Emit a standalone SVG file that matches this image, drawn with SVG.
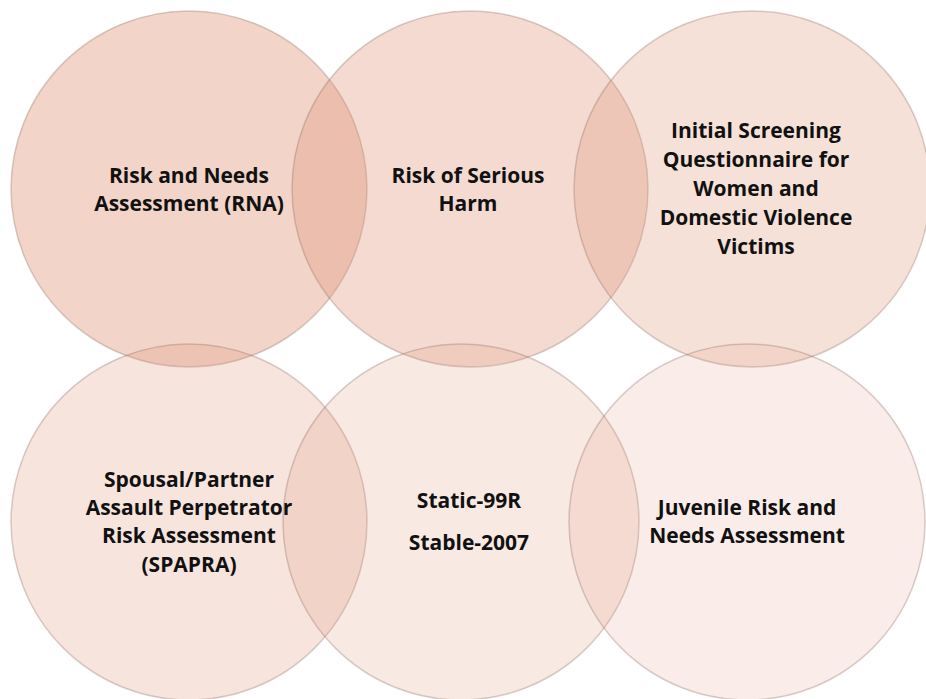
<svg xmlns="http://www.w3.org/2000/svg" width="926" height="699" viewBox="0 0 926 699">
<style>
.c{fill:#e0967a;stroke:#8a6a60;stroke-opacity:0.32;stroke-width:1.5}
.t{font-family:"Open Sans","Noto Sans","Liberation Sans",sans-serif;font-weight:700;font-size:21px;fill:#111;text-anchor:middle}
</style>
<rect width="926" height="699" fill="#fff"/>
<g id="node-rna"><circle class="c" cx="189" cy="189" r="178" fill-opacity="0.41"/></g>
<g id="node-rosh"><circle class="c" cx="470" cy="189" r="178" fill-opacity="0.35"/></g>
<g id="node-isq"><circle class="c" cx="752" cy="189" r="178" fill-opacity="0.29"/></g>
<g id="node-spapra"><circle class="c" cx="189" cy="522" r="178" fill-opacity="0.26"/></g>
<g id="node-static"><circle class="c" cx="461" cy="522" r="178" fill-opacity="0.21"/></g>
<g id="node-juvenile"><circle class="c" cx="747" cy="522" r="178" fill-opacity="0.17"/></g>
<g id="connectors"></g>
<g id="labels">
<text class="t" x="189" y="183">Risk and Needs</text>
<text class="t" x="189" y="211">Assessment (RNA)</text>
<text class="t" x="468" y="183">Risk of Serious</text>
<text class="t" x="468" y="211">Harm</text>
<text class="t" x="756" y="138">Initial Screening</text>
<text class="t" x="756" y="167">Questionnaire for</text>
<text class="t" x="756" y="196">Women and</text>
<text class="t" x="756" y="225">Domestic Violence</text>
<text class="t" x="756" y="254">Victims</text>
<text class="t" x="189" y="487">Spousal/Partner</text>
<text class="t" x="189" y="515">Assault Perpetrator</text>
<text class="t" x="189" y="543">Risk Assessment</text>
<text class="t" x="189" y="572">(SPAPRA)</text>
<text class="t" x="469" y="508">Static-99R</text>
<text class="t" x="469" y="550">Stable-2007</text>
<text class="t" x="747" y="515">Juvenile Risk and</text>
<text class="t" x="747" y="543">Needs Assessment</text>
</g>
</svg>
